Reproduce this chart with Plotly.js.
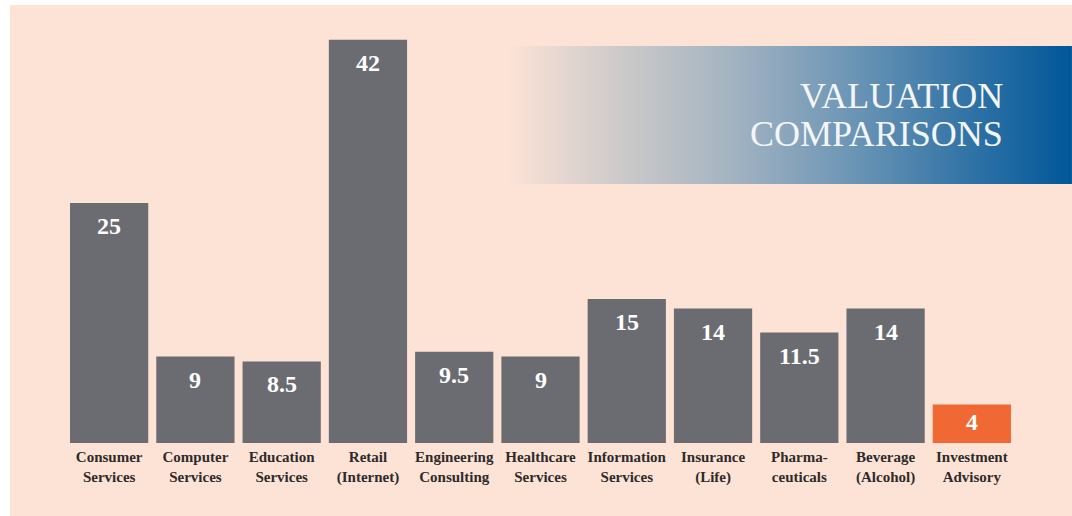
<!DOCTYPE html>
<html>
<head>
<meta charset="utf-8">
<script src="https://cdn.plot.ly/plotly-3.0.1.min.js"></script>
<style>
  html, body { margin: 0; padding: 0; background: #ffffff; }
  #chart { position: absolute; left: 10px; top: 5px; width: 1062px; height: 511px; }
</style>
</head>
<body>
<div id="chart"></div>
<script>
// ---- data ----
const categories = ["Consumer Services", "Computer Services", "Education Services", "Retail (Internet)",
  "Engineering Consulting", "Healthcare Services", "Information Services", "Insurance (Life)",
  "Pharmaceuticals", "Beverage (Alcohol)", "Investment Advisory"];
const tickLabels = ["Consumer<br>Services", "Computer<br>Services", "Education<br>Services", "Retail<br>(Internet)",
  "Engineering<br>Consulting", "Healthcare<br>Services", "Information<br>Services", "Insurance<br>(Life)",
  "Pharma-<br>ceuticals", "Beverage<br>(Alcohol)", "Investment<br>Advisory"];
const values = [25, 9, 8.5, 42, 9.5, 9, 15, 14, 11.5, 14, 4];
const valueLabels = ["25", "9", "8.5", "42", "9.5", "9", "15", "14", "11.5", "14", "4"];
const highlight = "Investment Advisory";
const titleLines = ["VALUATION", "COMPARISONS"];

// ---- style ----
const GRAY = "#6b6c71", ORANGE = "#f06934", PEACH = "#fde3d6";
const barColors = categories.map(c => c === highlight ? ORANGE : GRAY);
const PX_PER_UNIT = 432 / 45;

const trace = {
  type: "bar",
  x: categories,
  y: values,
  marker: { color: barColors, line: { width: 0 } },
  hoverinfo: "skip"
};

const annotations = categories.map((c, i) => {
  const hpx = values[i] * PX_PER_UNIT;
  return {
    x: c, y: values[i], xref: "x", yref: "y",
    text: valueLabels[i], showarrow: false,
    yanchor: "middle", xanchor: "center",
    yshift: -Math.min(23, hpx / 2 - 2),
    font: { family: "Liberation Serif, serif", size: 24, color: "#ffffff", weight: "bold" }
  };
});

annotations.push({
  xref: "paper", yref: "paper", x: 0.9895, y: 0.803, xanchor: "right", yanchor: "middle",
  text: titleLines[0], showarrow: false,
  font: { family: "Liberation Serif, serif", size: 36, color: "#f3f5f8" }
});
annotations.push({
  xref: "paper", yref: "paper", x: 0.9895, y: 0.7164, xanchor: "right", yanchor: "middle",
  text: titleLines[1], showarrow: false,
  font: { family: "Liberation Serif, serif", size: 36, color: "#f3f5f8" }
});

const svg = '<svg xmlns="http://www.w3.org/2000/svg" width="100" height="100" viewBox="0 0 100 100" preserveAspectRatio="none">' +
  '<defs><linearGradient id="g" x1="0" y1="0" x2="1" y2="0">' +
  '<stop offset="0" stop-color="#fde3d6"/>' +
  '<stop offset="0.2" stop-color="#cdcaca"/>' +
  '<stop offset="0.4" stop-color="#a3b3c1"/>' +
  '<stop offset="0.6" stop-color="#6f97b6"/>' +
  '<stop offset="0.8" stop-color="#3676a7"/>' +
  '<stop offset="1" stop-color="#005799"/>' +
  '</linearGradient></defs><rect x="0" y="0" width="100" height="100" fill="url(#g)"/></svg>';

const layout = {
  width: 1062, height: 511,
  margin: { l: 56, r: 57, t: 6, b: 73 },
  paper_bgcolor: PEACH,
  plot_bgcolor: PEACH,
  bargap: 0.093,
  showlegend: false,
  xaxis: {
    type: "category",
    tickvals: categories, ticktext: tickLabels,
    showgrid: false, zeroline: false, showline: false, ticks: "",
    ticklabelstandoff: 3,
    tickfont: { family: "Liberation Serif, serif", size: 15, color: "#2e2a2a", weight: "bold" },
    fixedrange: true
  },
  yaxis: {
    range: [0, 45], visible: false, showgrid: false, zeroline: false, fixedrange: true
  },
  images: [{
    source: "data:image/svg+xml;charset=utf-8," + encodeURIComponent(svg),
    xref: "paper", yref: "paper", x: 0.4647, y: 0.919, sizex: 0.5953, sizey: 0.3195,
    xanchor: "left", yanchor: "top", sizing: "stretch", layer: "above"
  }],
  annotations: annotations
};

Plotly.newPlot("chart", [trace], layout, { displayModeBar: false, staticPlot: true });
</script>
</body>
</html>
